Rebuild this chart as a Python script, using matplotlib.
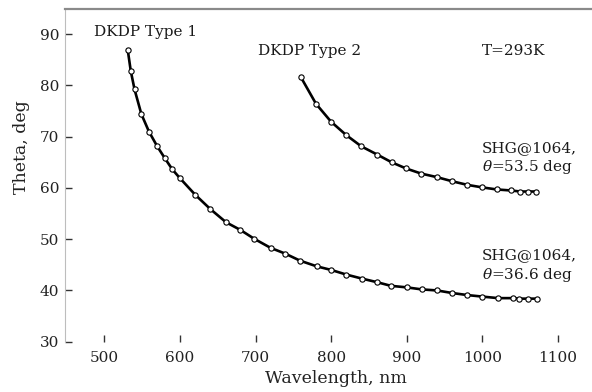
import matplotlib
matplotlib.use("Agg")
import matplotlib.pyplot as plt

# wavelength (nm) and phase-matching angle (deg)
type1_wl = [531, 535, 540, 549, 559, 570, 580, 590, 600, 620, 640, 661, 680, 698,
            720, 739, 759, 781, 800, 820, 841, 861, 879, 900, 920, 940, 960, 980,
            1000, 1021, 1040, 1049, 1060, 1072]
type1_th = [86.9, 82.8, 79.2, 74.4, 71.0, 68.1, 65.8, 63.6, 61.9, 58.7, 55.9, 53.3,
            51.8, 50.1, 48.3, 47.2, 45.8, 44.7, 44.0, 43.1, 42.3, 41.6, 40.9, 40.6,
            40.2, 40.0, 39.5, 39.1, 38.8, 38.5, 38.5, 38.4, 38.4, 38.4]

type2_wl = [760, 780, 800, 820, 840, 861, 880, 899, 919, 940, 960, 980, 1000, 1019,
            1038, 1050, 1061, 1071]
type2_th = [81.6, 76.4, 72.9, 70.3, 68.1, 66.5, 65.0, 63.8, 62.8, 62.1, 61.3, 60.6,
            60.1, 59.7, 59.5, 59.3, 59.3, 59.3]

x_ticks = [500, 600, 700, 800, 900, 1000, 1100]
y_ticks = [30, 40, 50, 60, 70, 80, 90]

plt.rcParams["font.family"] = ["DejaVu Serif"]
plt.rcParams["mathtext.fontset"] = "dejavuserif"

fig = plt.figure(figsize=(5.92, 3.92), dpi=100)
ax = fig.add_axes((0.1098, 0.1283, 0.8902, 0.85))

for wl, th in [(type1_wl, type1_th), (type2_wl, type2_th)]:
    ax.plot(wl, th, color="black", lw=1.9, zorder=2)
    ax.plot(wl, th, ls="none", marker="o", ms=3.8, mfc="white", mec="black",
            mew=0.8, zorder=3)

ax.set_xlim(448, 1145)
ax.set_ylim(30, 95)
ax.set_xticks(x_ticks)
ax.set_yticks(y_ticks)

ax.spines["right"].set_visible(False)
ax.spines["bottom"].set_visible(False)
ax.spines["top"].set_color("#8a8a8a")
ax.spines["top"].set_linewidth(1.6)
ax.spines["left"].set_color("#bdbdbd")
ax.spines["left"].set_linewidth(0.8)

ax.tick_params(axis="both", direction="in", length=5, width=1.0, color="#333333",
               labelsize=11, labelcolor="#222222")
ax.tick_params(axis="x", pad=7)
ax.tick_params(axis="y", pad=4)

ax.set_xlabel("Wavelength, nm", fontsize=12.5, color="#222222")
ax.set_ylabel("Theta, deg", fontsize=12.5, color="#222222")
ax.xaxis.set_label_coords(0.514, -0.085)
ax.yaxis.set_label_coords(-0.066, 0.584)

tc = "#1a1a1a"
fs = 11
ax.text(554, 90.4, "DKDP Type 1", ha="center", va="center", fontsize=fs, color=tc)
ax.text(771, 86.7, "DKDP Type 2", ha="center", va="center", fontsize=fs, color=tc)
ax.text(1000, 86.7, "T=293K", ha="left", va="center", fontsize=fs, color=tc)
ax.text(999, 67.8, "SHG@1064,", ha="left", va="center", fontsize=fs, color=tc)
ax.text(999, 64.1, r"$\theta$=53.5 deg", ha="left", va="center", fontsize=fs, color=tc)
ax.text(999, 46.9, "SHG@1064,", ha="left", va="center", fontsize=fs, color=tc)
ax.text(999, 43.0, r"$\theta$=36.6 deg", ha="left", va="center", fontsize=fs, color=tc)

fig.savefig("out.png", dpi=100)
